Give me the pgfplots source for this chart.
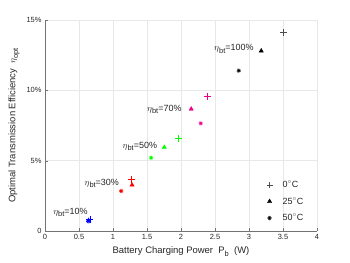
\documentclass[border=0pt]{standalone}
\usepackage{fontspec}
\setmainfont{Liberation Sans}
\usepackage{pgfplots}
\pgfplotsset{compat=1.18}
\usetikzlibrary{plotmarks}
\definecolor{axgray}{gray}{0.15}
\newcommand{\lsub}[1]{\raisebox{-0.55ex}{\fontsize{7.5}{8}\selectfont #1}}
\begin{document}
\begin{tikzpicture}[font=\fontsize{9}{10}\selectfont]
\begin{axis}[
 scale only axis, width=272bp, height=211bp, at={(0,0)}, anchor=south west,
 xmin=0, xmax=4, ymin=0, ymax=15,
 xtick={0,0.5,1,1.5,2,2.5,3,3.5,4},
 xticklabels={0,0.5,1,1.5,2,2.5,3,3.5,4},
 ytick={0,5,10,15}, yticklabels={0,5\%,10\%,15\%},
 axis x line*=bottom, axis y line*=left,
 axis line style={draw=black!55, -},
 tick align=inside, major tick length=3bp, tick style={black!55},
 grid=major, grid style={black!9, line width=0.4pt},
 xlabel={Battery Charging Power\ \ P\lsub{b}\ \ (W)},
 ylabel={Optimal Transmission Efficiency\ \ $\eta$\lsub{opt}},
 label style={text=axgray, font=\fontsize{9.5}{10}\selectfont},
 ticklabel style={font=\fontsize{7.5}{8}\selectfont, text=axgray},
 /pgf/number format/assume math mode=true,
 legend style={draw=none, fill=none, at={(0.803,0.258)}, anchor=north west,
   font=\fontsize{9}{10}\selectfont, text=axgray, row sep=4.5bp,
   /tikz/every odd column/.append style={column sep=8bp}},
 legend cell align=left,
 clip=false,
]
\addlegendimage{only marks, mark=+, mark size=3pt, black!70}
\addlegendentry{0$^{\circ}$C}
\addlegendimage{only marks, mark=triangle*, mark size=2.5pt, black}
\addlegendentry{25$^{\circ}$C}
\addlegendimage{only marks, mark=10-pointed star, mark size=2.2pt, black}
\addlegendentry{50$^{\circ}$C}
% 10%
\addplot[forget plot, only marks, mark=+, mark size=3.5pt, blue] coordinates {(0.66,0.83)};
\addplot[forget plot, only marks, mark=triangle*, mark size=2.5pt, blue] coordinates {(0.64,0.75)};
\addplot[forget plot, only marks, mark=10-pointed star, mark size=2.2pt, blue] coordinates {(0.64,0.68)};
% 30%
\addplot[forget plot, only marks, mark=+, mark size=3.5pt, red] coordinates {(1.275,3.67)};
\addplot[forget plot, only marks, mark=triangle*, mark size=2.5pt, red] coordinates {(1.28,3.27)};
\addplot[forget plot, only marks, mark=10-pointed star, mark size=2.2pt, red] coordinates {(1.12,2.84)};
% 50%
\addplot[forget plot, only marks, mark=+, mark size=3.5pt, green] coordinates {(1.96,6.59)};
\addplot[forget plot, only marks, mark=triangle*, mark size=2.5pt, green] coordinates {(1.755,5.95)};
\addplot[forget plot, only marks, mark=10-pointed star, mark size=2.2pt, green] coordinates {(1.56,5.21)};
% 70%
\addplot[forget plot, only marks, mark=+, mark size=3.5pt, magenta] coordinates {(2.39,9.55)};
\addplot[forget plot, only marks, mark=triangle*, mark size=2.5pt, magenta] coordinates {(2.15,8.67)};
\addplot[forget plot, only marks, mark=10-pointed star, mark size=2.2pt, magenta] coordinates {(2.29,7.65)};
% 100%
\addplot[forget plot, only marks, mark=+, mark size=3.5pt, black!70] coordinates {(3.51,14.1)};
\addplot[forget plot, only marks, mark=triangle*, mark size=2.5pt, black] coordinates {(3.18,12.8)};
\addplot[forget plot, only marks, mark=10-pointed star, mark size=2.2pt, black] coordinates {(2.85,11.4)};
% annotations
\node[anchor=east, inner sep=0pt, text=axgray] at (axis cs:0.63,1.33) {$\eta$\lsub{bt}=10\%};
\node[anchor=east, inner sep=0pt, text=axgray] at (axis cs:1.09,3.39) {$\eta$\lsub{bt}=30\%};
\node[anchor=east, inner sep=0pt, text=axgray] at (axis cs:1.65,6.0) {$\eta$\lsub{bt}=50\%};
\node[anchor=east, inner sep=0pt, text=axgray] at (axis cs:2.01,8.65) {$\eta$\lsub{bt}=70\%};
\node[anchor=east, inner sep=0pt, text=axgray] at (axis cs:3.07,12.93) {$\eta$\lsub{bt}=100\%};
\end{axis}
\pgfresetboundingbox
\path (-45bp,-32bp) rectangle (305bp,231bp);
\end{tikzpicture}
\end{document}
